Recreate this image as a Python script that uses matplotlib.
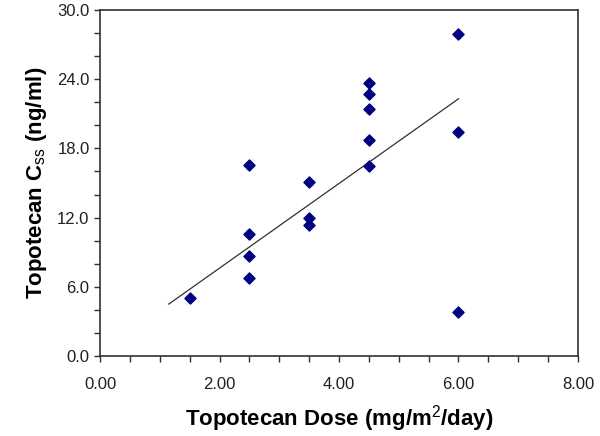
##################################################
## Import useful packages
##################################################
import numpy as np
import matplotlib.pyplot as plt
from matplotlib.ticker import MultipleLocator, FormatStrFormatter

##################################################
## Data
##################################################
# dose (mg/m2/day)
dose = [1.5,
        2.5, 2.5, 2.5, 2.5,
        3.5, 3.5, 3.5,
        4.5, 4.5, 4.5, 4.5, 4.5,
        6.0, 6.0, 6.0]
# steady state concentration (ng/ml)
css = [5.0,
       16.6, 10.6, 8.7, 6.8,
       15.1, 12.0, 11.4,
       23.7, 22.7, 21.45, 18.7, 16.5,
       27.9, 19.4, 3.8]

# trend line end points
fit_x = [1.15, 6.0]
fit_y = [4.5, 22.3]

##################################################
## Fonts
##################################################
plt.rcParams['font.family'] = ['Liberation Sans', 'DejaVu Sans']
plt.rcParams['mathtext.fontset'] = 'custom'
plt.rcParams['mathtext.rm'] = 'Liberation Sans'
plt.rcParams['mathtext.it'] = 'Liberation Sans'
plt.rcParams['mathtext.bf'] = 'Liberation Sans:bold'

##################################################
## Plot
##################################################
fig = plt.figure(figsize=(6.0, 4.36), dpi=100)
ax = fig.add_axes([0.1667, 0.1835, 0.7966, 0.7935])

ax.plot(fit_x, fit_y, color='#303030', linewidth=0.9)
ax.scatter(dose, css, marker='D', s=32, color='#000080', zorder=3)

ax.set_xlim(0, 8)
ax.set_ylim(0, 30)
ax.xaxis.set_major_locator(MultipleLocator(2))
ax.xaxis.set_minor_locator(MultipleLocator(0.5))
ax.yaxis.set_major_locator(MultipleLocator(6))
ax.yaxis.set_minor_locator(MultipleLocator(2))
ax.xaxis.set_major_formatter(FormatStrFormatter('%.2f'))
ax.yaxis.set_major_formatter(FormatStrFormatter('%.1f'))

ax.tick_params(which='both', direction='out', length=4, width=1,
               color='#303030', labelsize=12, labelcolor='#202020')
ax.tick_params(axis='x', pad=11)
for s in ax.spines.values():
    s.set_color('#303030')
    s.set_linewidth(1.2)

ax.set_xlabel(r'Topotecan Dose (mg/m$^{2}$/day)', fontsize=16,
              fontweight='bold', labelpad=8)
ax.set_ylabel(r'Topotecan C$_{\mathrm{ss}}$ (ng/ml)', fontsize=16,
              fontweight='bold', labelpad=6)

plt.savefig('out.png', dpi=100)
